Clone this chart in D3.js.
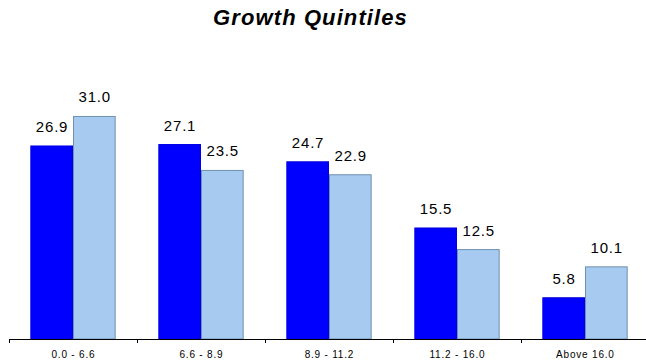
<!DOCTYPE html>
<html>
<head>
<meta charset="utf-8">
<script src="https://cdn.jsdelivr.net/npm/d3@7"></script>
<style>
  html, body { margin: 0; padding: 0; background: #fff; }
  svg { display: block; }
</style>
</head>
<body>
<svg id="chart" width="646" height="364"></svg>
<script>
// Growth quintile buckets and the two series shown per bucket
const categories = ["0.0 - 6.6", "6.6 - 8.9", "8.9 - 11.2", "11.2 - 16.0", "Above 16.0"];
const seriesNames = ["A", "B"];
const seriesA = [26.9, 27.1, 24.7, 15.5, 5.8];
const seriesB = [31.0, 23.5, 22.9, 12.5, 10.1];
const title = "Growth Quintiles";

const seriesValues = [seriesA, seriesB];
const fills = ["#0000FF", "#A6CAF0"];
const strokes = ["#0000E0", "#7090B0"];

const svg = d3.select("#chart");
const W = 646, H = 364;
const baseY = 339;
const font = "'Liberation Sans', Arial, sans-serif";

const x = d3.scaleBand().domain(categories).range([9, 649]).paddingInner(0).paddingOuter(0);
const xs = d3.scaleBand().domain(seriesNames).range([0, x.bandwidth()]).paddingInner(0).paddingOuter(0.5);
const y = d3.scaleLinear().domain([0, 35]).range([baseY, baseY - 35 * 7.194]);

// Title
svg.append("text")
  .attr("x", 310.5)
  .attr("y", 25)
  .attr("text-anchor", "middle")
  .style("font-family", font)
  .style("font-size", "22px")
  .style("font-weight", "bold")
  .style("font-style", "italic")
  .style("letter-spacing", "1.1px")
  .attr("fill", "#000")
  .text(title);

// Bars with value labels
const groups = svg.append("g").selectAll("g")
  .data(categories)
  .join("g")
  .attr("transform", d => `translate(${x(d)},0)`);

seriesNames.forEach((s, si) => {
  groups.append("rect")
    .attr("x", xs(s) + 0.5)
    .attr("width", xs.bandwidth() - 1)
    .attr("y", (d, i) => y(seriesValues[si][i]) + 0.5)
    .attr("height", (d, i) => baseY - y(seriesValues[si][i]) - 0.5)
    .attr("fill", fills[si])
    .attr("stroke", strokes[si])
    .attr("stroke-width", 1);

  groups.append("text")
    .attr("x", xs(s) + xs.bandwidth() / 2 + 0.4)
    .attr("y", (d, i) => y(seriesValues[si][i]) - 13.5)
    .attr("text-anchor", "middle")
    .style("font-family", font)
    .style("font-size", "15px")
    .style("letter-spacing", "0.8px")
    .attr("fill", "#000")
    .text((d, i) => seriesValues[si][i].toFixed(1));
});

// Category axis
const axis = svg.append("g")
  .attr("transform", `translate(0,${baseY})`)
  .call(d3.axisBottom(x).tickSize(0).tickPadding(11.5));
axis.select(".domain").remove();
axis.selectAll("text")
  .attr("dx", "0.4px")
  .style("font-family", font)
  .style("font-size", "10px")
  .style("letter-spacing", "0.8px")
  .attr("fill", "#000");

axis.append("line")
  .attr("x1", 9).attr("x2", W)
  .attr("y1", 0.5).attr("y2", 0.5)
  .attr("stroke", "#000").attr("stroke-width", 1);

axis.selectAll(".bound")
  .data(categories)
  .join("line")
  .attr("class", "bound")
  .attr("x1", d => Math.round(x(d)) + 0.5)
  .attr("x2", d => Math.round(x(d)) + 0.5)
  .attr("y1", 0).attr("y2", 4)
  .attr("stroke", "#000").attr("stroke-width", 1);
</script>
</body>
</html>
